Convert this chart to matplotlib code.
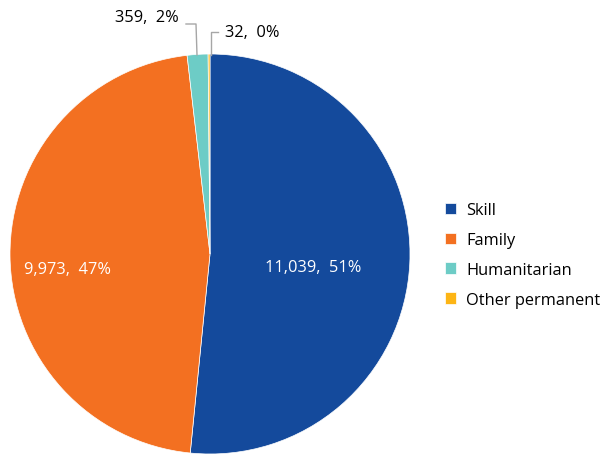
import matplotlib.pyplot as plt

# Data
categories = ["Skill", "Family", "Humanitarian", "Other permanent"]
values = [11039, 9973, 359, 32]
pct_labels = ["51%", "47%", "2%", "0%"]
colors = ["#144A9C", "#F37021", "#6DCCC6", "#FDB515"]

plt.rcParams['font.family'] = ['Open Sans', 'DejaVu Sans']
fs = 11.8

fig = plt.figure(figsize=(6.01, 4.56), dpi=100)
ax = fig.add_axes([10 / 601, 1 / 456, 400 / 601, 400 / 456])

wedges, _ = ax.pie(values, colors=colors, startangle=90, counterclock=False,
                   radius=1.0, wedgeprops=dict(edgecolor="white", linewidth=0.5))
ax.set_xlim(-1, 1)
ax.set_ylim(-1, 1)
ax.set_aspect("equal")

labels = [f"{v:,},  {p}" for v, p in zip(values, pct_labels)]

# inside labels
ax.text(0.515, -0.065, labels[0], color="white", fontsize=fs, ha="center", va="center")
ax.text(-0.71, -0.075, labels[1], color="white", fontsize=fs, ha="center", va="center")

# outside labels with leader lines
line_col = "#A6A6A6"
ax.plot([-0.12, -0.07, -0.065], [1.15, 1.15, 0.995], color=line_col, lw=1, clip_on=False)
ax.text(-0.155, 1.185, labels[2], fontsize=fs, ha="right", va="center")
ax.plot([0.04, 0.005, 0.005], [1.11, 1.11, 0.995], color=line_col, lw=1, clip_on=False)
ax.text(0.075, 1.11, labels[3], fontsize=fs, ha="left", va="center")

fig.legend(wedges, categories, loc="center left", bbox_to_anchor=(430 / 601, 1 - 256 / 456),
           frameon=False, fontsize=fs, handlelength=0.7, handleheight=0.7,
           handletextpad=0.6, labelspacing=0.85)

fig.savefig("out.png", dpi=100)
